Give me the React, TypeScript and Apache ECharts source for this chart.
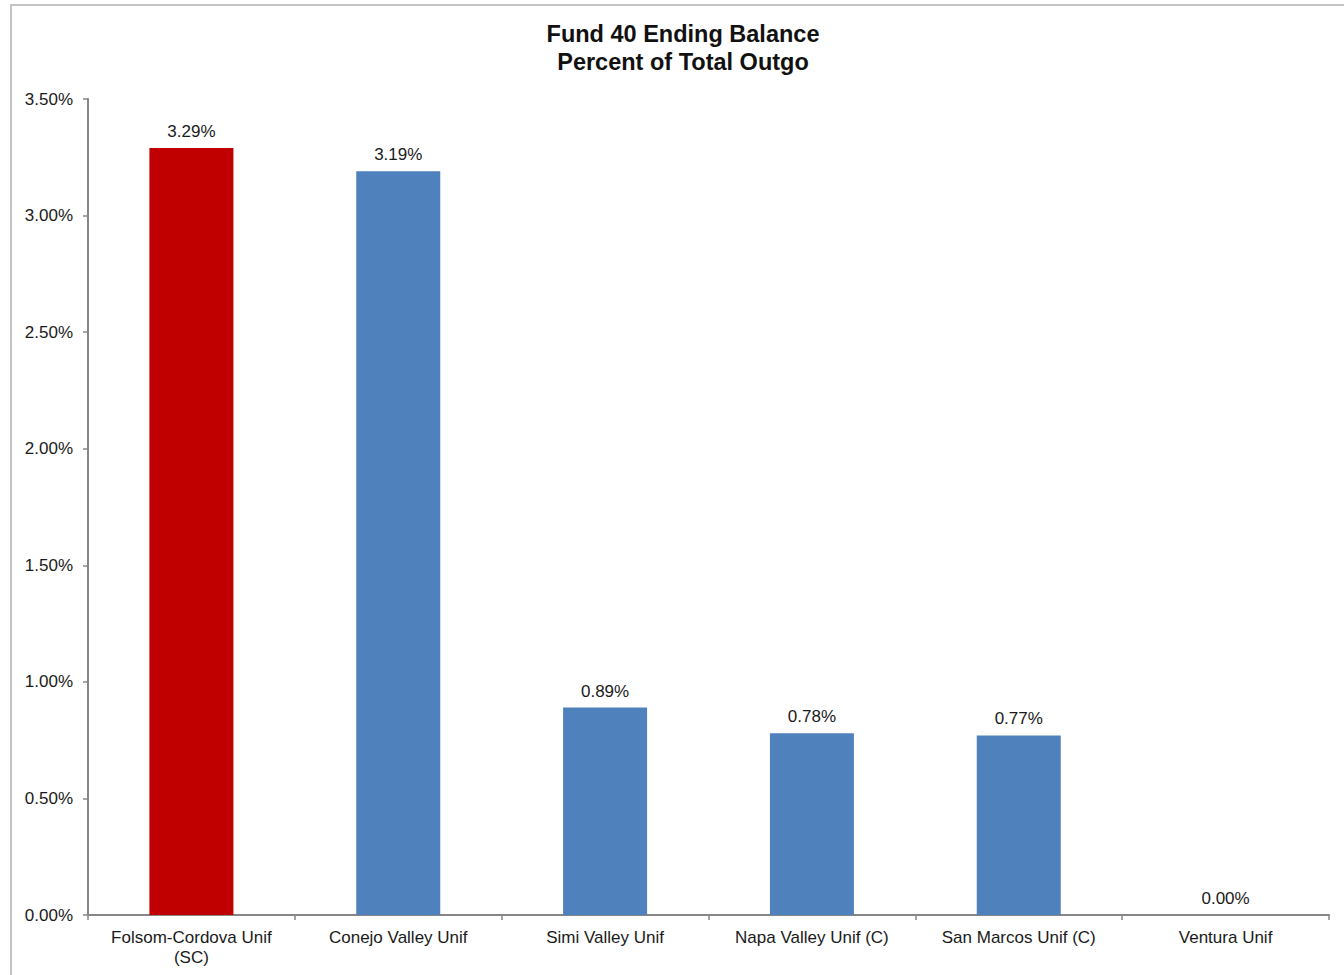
import React, { useEffect, useRef } from "react";
import * as echarts from "echarts";

const categories = [
  "Folsom-Cordova Unif\n(SC)",
  "Conejo Valley Unif",
  "Simi Valley Unif",
  "Napa Valley Unif (C)",
  "San Marcos Unif (C)",
  "Ventura Unif",
];
const values = [3.29, 3.19, 0.89, 0.78, 0.77, 0.0];
const barColors = ["#C00000", "#4F81BD", "#4F81BD", "#4F81BD", "#4F81BD", "#4F81BD"];
const titleLines = ["Fund 40 Ending Balance", "Percent of Total Outgo"];

const FONT = "'Liberation Sans', Arial, sans-serif";

export default function App() {
  const ref = useRef<HTMLDivElement>(null);
  useEffect(() => {
    if (!ref.current) return;
    const chart = echarts.init(ref.current, undefined, { renderer: "svg" });
    chart.setOption({
      animation: false,
      backgroundColor: "#ffffff",
      title: {
        text: titleLines.join("\n"),
        left: 678,
        top: 15,
        textAlign: "center",
        textStyle: {
          fontFamily: FONT,
          fontSize: 23.5,
          fontWeight: "bold",
          lineHeight: 28,
          color: "#111",
        },
      },
      graphic: [
        {
          type: "rect",
          shape: { x: 11, y: 5, width: 1400, height: 1100 },
          style: { fill: "none", stroke: "#c4c4c4", lineWidth: 2 },
          silent: true,
        },
      ],
      grid: { left: 88, right: 15, top: 99, bottom: 60, containLabel: false },
      xAxis: {
        type: "category",
        data: categories,
        axisLine: { lineStyle: { color: "#868686", width: 2 } },
        axisTick: { show: true, interval: 0, length: 5, lineStyle: { color: "#868686", width: 1.5 } },
        axisLabel: {
          interval: 0,
          hideOverlap: false,
          fontFamily: FONT,
          fontSize: 17,
          color: "#1a1a1a",
          margin: 12,
          lineHeight: 20,
        },
      },
      yAxis: {
        type: "value",
        min: 0,
        max: 3.5,
        interval: 0.5,
        splitLine: { show: false },
        axisLine: { show: true, lineStyle: { color: "#868686", width: 2 } },
        axisTick: { show: true, length: 5, lineStyle: { color: "#868686", width: 1.5 } },
        axisLabel: {
          fontFamily: FONT,
          fontSize: 17,
          color: "#1a1a1a",
          margin: 15,
          formatter: (v: number) => v.toFixed(2) + "%",
        },
      },
      series: [
        {
          type: "bar",
          barWidth: 84,
          data: values.map((v, i) => ({ value: v, itemStyle: { color: barColors[i] } })),
          label: {
            show: true,
            position: "top",
            distance: 8,
            fontFamily: FONT,
            fontSize: 17,
            color: "#1a1a1a",
            formatter: (p: any) => Number(p.value).toFixed(2) + "%",
          },
        },
      ],
    });
    return () => chart.dispose();
  }, []);
  return (
    <div
      ref={ref}
      style={{ position: "absolute", left: 0, top: 0, width: 1344, height: 975 }}
    />
  );
}
